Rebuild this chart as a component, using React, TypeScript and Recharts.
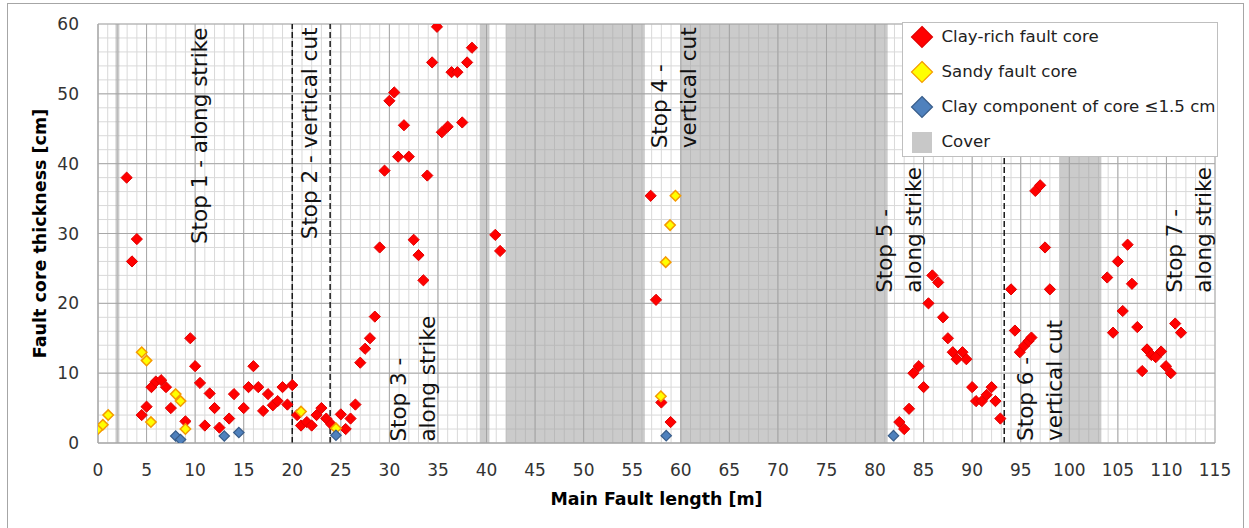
import React from 'react';
import {
  ScatterChart,
  Scatter,
  XAxis,
  YAxis,
  CartesianGrid,
  ReferenceArea,
  ReferenceLine,
} from 'recharts';

// ---------- data ----------
const clayRich: [number, number][] = [
  [2.95, 38], [3.5, 26], [4.0, 29.2], [4.5, 4.0], [5.0, 5.2], [5.5, 8.0], [5.95, 8.8], [6.5, 9.0],
  [7.0, 8.0], [7.5, 5.0], [9.0, 3.1], [9.5, 15.0], [10.0, 11.0], [10.5, 8.6], [11.0, 2.5], [11.5, 7.1],
  [12.0, 5.0], [12.5, 2.2], [13.5, 3.5], [14.0, 7.0], [15.0, 5.0], [15.5, 8.0], [16.0, 11.0], [16.5, 8.0],
  [17.0, 4.6], [17.5, 7.0], [18.0, 5.4], [18.5, 6.0], [19.0, 8.0], [19.5, 5.5], [20.0, 8.3],
  [20.5, 4.0], [20.9, 2.5], [21.5, 3.0], [22.0, 2.5], [22.5, 4.0], [23.0, 5.0], [23.5, 3.5], [24.0, 2.7],
  [25.0, 4.1], [25.5, 2.0], [26.0, 3.5], [26.5, 5.5], [27.0, 11.5], [27.5, 13.5], [28.0, 15.0], [28.5, 18.1],
  [29.0, 28.0], [29.5, 39.0], [30.0, 49.0], [30.5, 50.2], [30.9, 41.0], [31.5, 45.5], [32.0, 41.0],
  [32.5, 29.1], [33.0, 26.9], [33.5, 23.3], [33.9, 38.3], [34.4, 54.5], [34.9, 59.6], [35.4, 44.5],
  [36.0, 45.3], [36.4, 53.1], [37.0, 53.1], [37.5, 45.9], [38.0, 54.5], [38.5, 56.6], [40.9, 29.8], [41.4, 27.5],
  [56.9, 35.4], [57.45, 20.5], [58.0, 5.8], [58.95, 3.0],
  [82.5, 3.0], [83.0, 2.0], [83.5, 4.9], [83.95, 10.0], [84.5, 11.0], [85.0, 8.0], [85.5, 20.0], [85.9, 24.0],
  [86.5, 23.0], [87.0, 18.0], [87.5, 15.0], [88.0, 13.0], [88.4, 12.0], [89.0, 13.0], [89.4, 12.0], [90.0, 8.0],
  [90.4, 6.0], [91.0, 6.0], [91.5, 6.9], [92.0, 8.0], [92.4, 6.0], [92.9, 3.5],
  [94.0, 22.0], [94.4, 16.1], [94.9, 13.0], [95.35, 13.9], [95.8, 14.6], [96.1, 15.1], [96.5, 36.1],
  [97.0, 36.9], [97.5, 28.0], [98.0, 22.0],
  [103.9, 23.7], [104.5, 15.8], [105.0, 26.0], [105.5, 18.9], [106.0, 28.4], [106.45, 22.8], [107.0, 16.6],
  [107.5, 10.3], [108.0, 13.4], [108.45, 12.6], [108.9, 12.3], [109.45, 13.1], [109.95, 11.0], [110.45, 10.0],
  [110.9, 17.1], [111.5, 15.8],
];

const sandy: [number, number][] = [
  [0, 2.0], [0.5, 2.6], [1.05, 4.0], [4.5, 13.0], [5.0, 11.8], [5.45, 3.0], [8.0, 7.0], [8.5, 6.0],
  [9.0, 2.0], [20.9, 4.5], [24.5, 2.1], [57.95, 6.7], [58.45, 25.9], [58.9, 31.2], [59.45, 35.4],
];

const clayThin: [number, number][] = [
  [8.0, 1.0], [8.5, 0.5], [13.0, 1.0], [14.5, 1.5], [24.5, 1.1], [58.5, 1.05], [81.9, 1.05],
];

const coverBands: [number, number][] = [
  [1.8, 2.2], [39.3, 40.3], [42.0, 56.3], [60.0, 81.3], [99.0, 103.3],
];

const dashedLines = [20, 23.9, 93.3];

// stop labels: x (m) of first line centre, lines, anchor value (cm), side of anchor
const stopLabels: { x: number; lines: string[]; at: number; from: 'top' | 'bottom' }[] = [
  { x: 10.5, lines: ['Stop 1 - along strike'], at: 59.5, from: 'top' },
  { x: 21.8, lines: ['Stop 2 - vertical cut'], at: 59.5, from: 'top' },
  { x: 30.9, lines: ['Stop 3 -', 'along strike'], at: 0.2, from: 'bottom' },
  { x: 57.86, lines: ['Stop 4 -', 'vertical cut'], at: 42.2, from: 'bottom' },
  { x: 80.97, lines: ['Stop 5 -', 'along strike'], at: 21.5, from: 'bottom' },
  { x: 95.54, lines: ['Stop 6 -', 'vertical cut'], at: 0.3, from: 'bottom' },
  { x: 110.83, lines: ['Stop 7 -', 'along strike'], at: 21.5, from: 'bottom' },
];

const xTicks = [0, 5, 10, 15, 20, 25, 30, 35, 40, 45, 50, 55, 60, 65, 70, 75, 80, 85, 90, 95, 100, 105, 110, 115];
const yTicks = [0, 10, 20, 30, 40, 50, 60];
const xMinor = Array.from({ length: 116 }, (_, i) => i);
const yMinor = Array.from({ length: 31 }, (_, i) => i * 2);

const legendItems = [
  { label: 'Clay-rich fault core', kind: 'diamond', fill: '#ff0000', stroke: '#e00000' },
  { label: 'Sandy fault core', kind: 'diamond', fill: '#ffff00', stroke: '#f59a00' },
  { label: 'Clay component of core \u22641.5 cm', kind: 'diamond', fill: '#4f81bd', stroke: '#385d8a' },
  { label: 'Cover', kind: 'square', fill: '#c8c8c8', stroke: 'none' },
];

const FONT = '"DejaVu Sans", Verdana, sans-serif';

const toPts = (arr: [number, number][]) => arr.map(([x, y]) => ({ x, y }));

const diamond = (fill: string, stroke: string, r = 5.6, sw = 1) => (props: any) => {
  const { cx, cy } = props;
  if (cx == null || cy == null) return <g />;
  return (
    <path
      d={`M${cx},${cy - r}L${cx + r},${cy}L${cx},${cy + r}L${cx - r},${cy}Z`}
      fill={fill}
      stroke={stroke}
      strokeWidth={sw}
    />
  );
};

const makeStopLabel = (lab: (typeof stopLabels)[number]) => (props: any) => {
  const vb = props.viewBox || {};
  const px = vb.x;
  const top = vb.y;
  const h = vb.height;
  const py = top + h * (1 - lab.at / 60);
  return (
    <g>
      {lab.lines.map((ln, i) => {
        const cx = px + i * 29;
        return (
          <text
            key={i}
            x={cx}
            y={py}
            transform={`rotate(-90, ${cx}, ${py})`}
            textAnchor={lab.from === 'top' ? 'end' : 'start'}
            dominantBaseline="central"
            fontSize={21.5}
            fontFamily={FONT}
            fill="#111"
          >
            {ln}
          </text>
        );
      })}
    </g>
  );
};

const xTitle = (props: any) => {
  const vb = props.viewBox;
  return (
    <text
      x={vb.x + vb.width / 2}
      y={vb.y + 56}
      textAnchor="middle"
      dominantBaseline="central"
      fontSize={17.4}
      fontWeight="bold"
      fontFamily={FONT}
      fill="#000"
    >
      Main Fault length [m]
    </text>
  );
};

const yTitle = (props: any) => {
  const vb = props.viewBox;
  const cx = 40;
  const cy = vb.y + vb.height / 2;
  return (
    <text
      x={cx}
      y={cy}
      transform={`rotate(-90, ${cx}, ${cy})`}
      textAnchor="middle"
      dominantBaseline="central"
      fontSize={17.5}
      fontWeight="bold"
      fontFamily={FONT}
      fill="#000"
    >
      Fault core thickness [cm]
    </text>
  );
};

const Legend = () => (
  <div
    style={{
      position: 'absolute',
      left: 902,
      top: 22,
      width: 316,
      height: 135,
      boxSizing: 'border-box',
      border: '1px solid #bfbfbf',
      background: '#fff',
      fontFamily: FONT,
      fontSize: 16.6,
      color: '#222',
    }}
  >
    {legendItems.map((it, i) => {
      const cy = 14 + i * 35;
      return (
        <div key={i} style={{ position: 'absolute', left: 0, top: cy - 12, height: 24, width: '100%' }}>
          <svg width={24} height={24} style={{ position: 'absolute', left: 6.5, top: 0 }}>
            {it.kind === 'diamond' ? (
              <path d="M12,1.5L22.5,12L12,22.5L1.5,12Z" fill={it.fill} stroke={it.stroke} strokeWidth={1.2} />
            ) : (
              <rect x={2} y={2} width={20} height={21} fill={it.fill} />
            )}
          </svg>
          <span
            style={{
              position: 'absolute',
              left: 38.5,
              top: 0,
              lineHeight: '24px',
              whiteSpace: 'nowrap',
            }}
          >
            {it.label}
          </span>
        </div>
      );
    })}
  </div>
);

export default function App() {
  return (
    <div
      style={{
        position: 'absolute',
        left: 0,
        top: 0,
        width: 1249,
        height: 528,
        background: '#fff',
        overflow: 'hidden',
        fontFamily: FONT,
      }}
    >
      <div
        style={{
          position: 'absolute',
          left: 7,
          top: 3,
          width: 1237,
          height: 530,
          boxSizing: 'border-box',
          border: '1px solid #a6a6a6',
        }}
      />
      <ScatterChart
        width={1249}
        height={528}
        margin={{ top: 24, right: 34, bottom: 35, left: 38 }}
        style={{ position: 'absolute', left: 0, top: 0 }}
      >
        <CartesianGrid
          stroke="#d9d9d9"
          strokeWidth={1}
          verticalValues={xMinor}
          horizontalValues={yMinor}
        />
        <CartesianGrid stroke="#a8a8a8" strokeWidth={1} verticalValues={xTicks} horizontalValues={yTicks} />
        {coverBands.map(([a, b], i) => (
          <ReferenceArea key={i} x1={a} x2={b} fill="#a0a0a0" fillOpacity={0.55} stroke="none" />
        ))}
        {dashedLines.map((v, i) => (
          <ReferenceLine key={i} x={v} stroke="#1a1a1a" strokeWidth={1.5} strokeDasharray="6 3" />
        ))}
        {stopLabels.map((lab, i) => (
          <ReferenceLine key={'s' + i} x={lab.x} stroke="none" strokeOpacity={0} label={makeStopLabel(lab)} />
        ))}
        <XAxis
          type="number"
          dataKey="x"
          domain={[0, 115]}
          ticks={xTicks}
          interval={0}
          height={50}
          tickLine={false}
          tickSize={0}
          tickMargin={21}
          axisLine={{ stroke: '#a8a8a8' }}
          tick={{ fontSize: 17, fontFamily: FONT, fill: '#333' }}
          label={xTitle}
          allowDataOverflow
        />
        <YAxis
          type="number"
          dataKey="y"
          domain={[0, 60]}
          ticks={yTicks}
          interval={0}
          width={60}
          tickLine={false}
          tickSize={0}
          tickMargin={19}
          axisLine={{ stroke: '#a8a8a8' }}
          tick={{ fontSize: 17, fontFamily: FONT, fill: '#333' }}
          label={yTitle}
          allowDataOverflow
        />
        <Scatter
          name="Clay-rich fault core"
          data={toPts(clayRich)}
          shape={diamond('#ff0000', '#e00000')}
          isAnimationActive={false}
        />
        <Scatter
          name="Sandy fault core"
          data={toPts(sandy)}
          shape={diamond('#ffff00', '#f59a00', 5.2, 1.5)}
          isAnimationActive={false}
        />
        <Scatter
          name="Clay component of core ≤1.5 cm"
          data={toPts(clayThin)}
          shape={diamond('#4f81bd', '#385d8a', 5.2, 1.2)}
          isAnimationActive={false}
        />
      </ScatterChart>
      <Legend />
    </div>
  );
}
